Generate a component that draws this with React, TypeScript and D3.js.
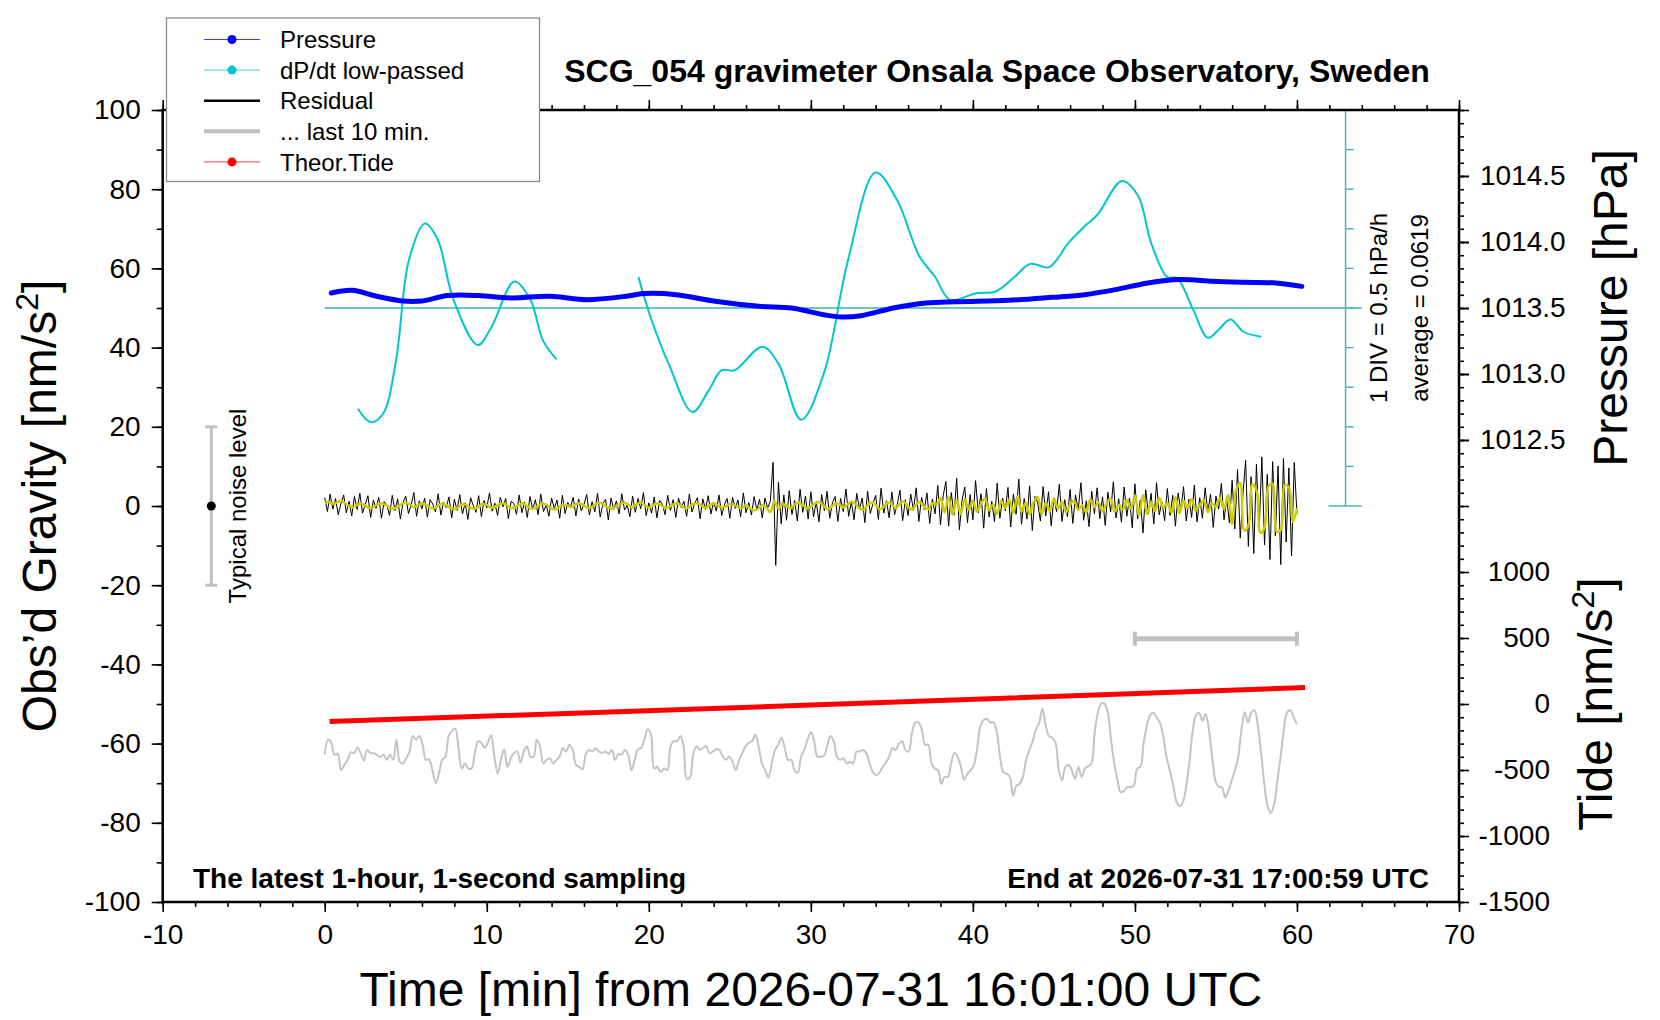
import React, { useEffect, useRef } from 'react';
import * as d3 from 'd3';

const W = 1660;
const H = 1020;
const FONT = "'Liberation Sans', Arial, Helvetica, sans-serif";

// frame of the plot, in pixels
const L = 162.7, R = 1459, T = 110, B = 902;

// ---- data ----
const pressureT = [0.4, 1.7, 3.2, 4.8, 6.0, 7.6, 9.5, 11.5, 13.9, 16.2, 18.6, 19.7, 21.7, 24.1, 26.8, 28.8,
  30.8, 31.9, 33.1, 35.1, 37.1, 39.0, 42.2, 44.9, 46.9, 48.8, 50.8, 52.8, 54.8, 56.7, 58.7, 60.3];
const pressureHPa = [1013.614, 1013.634, 1013.589, 1013.553, 1013.553, 1013.594, 1013.594, 1013.576, 1013.589,
  1013.563, 1013.589, 1013.609, 1013.601, 1013.551, 1013.513, 1013.500, 1013.449, 1013.432, 1013.442,
  1013.500, 1013.538, 1013.548, 1013.558, 1013.581, 1013.601, 1013.639, 1013.690, 1013.715, 1013.702,
  1013.695, 1013.690, 1013.664];

// dP/dt low-passed, hPa/h (null = gap)
const dpdtT = [2.05, 2.84, 3.6, 4.4, 5.2, 6.18, 6.97, 7.95, 9.44, 10.3, 11.7, 12.7, 13.46, 14.3,
  16.8,
  19.36, 20.1, 21.3, 22.7, 23.7, 24.5, 25.3, 27.0, 28.0, 29.4, 30.8, 32.3, 34.0, 35.3, 36.7, 37.65, 38.6,
  40.2, 41.4, 42.6, 43.55, 44.7, 45.9, 46.9, 47.7, 49.2, 50.2, 51.0, 52.0, 52.6, 53.6, 54.5, 55.15, 55.9,
  56.7, 57.8];
const dpdtVal: (number | null)[] = [-1.210, -1.380, -1.274, -0.598, 0.672, 1.128, 0.926, 0.164, -0.406, -0.174,
  0.396, 0.164, -0.344, -0.588,
  null,
  0.452, -0.048, -0.682, -1.252, -0.978, -0.724, -0.724, -0.428, -0.640, -1.350, -0.766, 0.672, 1.772, 1.434,
  0.714, 0.460, 0.164, 0.248, 0.270, 0.460, 0.620, 0.578, 0.884, 1.094, 1.242, 1.666, 1.476, 0.884, 0.452,
  0.440, 0.038, -0.314, -0.216, -0.082, -0.238, -0.302];
const dpdtAverage = 0.0619;
const dpdtPerDiv = 0.5;

// residual gravity, nm/s^2, one value every 10 s from 16:01:00
const residualStepS = 10;
const residual = [
  2.1, -1.4, 3.0, -0.8, 1.9, -2.2, 0.6, 2.8, -1.7, 1.2, -2.5, 2.4,
  -0.9, 3.2, -1.8, 0.4, 2.6, -2.9, 1.5, -0.6, 2.2, -3.1, 1.1, 0.3,
  -2.4, 2.7, -1.2, 1.8, -3.3, 0.9, 2.5, -1.9, 0.2, 3.4, -2.6, 1.3,
  -0.7, 2.0, -2.8, 1.6, 0.5, -1.5, 3.1, -2.3, 1.0, -0.4, 2.3, -3.0,
  1.7, -1.1, 2.9, -2.0, 0.8, -3.4, 2.1, 0.1, -1.6, 2.6, -2.7, 1.4,
  -0.5, 3.3, -1.3, 0.7, -2.4, 2.2, -0.2, 1.9, -3.2, 1.2, 0.6, -2.1,
  2.8, -1.7, 1.0, -2.9, 2.4, -0.8, 1.6, -2.2, 3.0, -1.4, 0.3, -2.6,
  2.0, -0.6, 1.5, -3.1, 2.7, -1.9, 0.9, -0.3, 2.2, -2.5, 1.8, -1.2,
  0.4, 2.9, -2.3, 1.1, -1.5, 3.2, -2.8, 0.6, 1.7, -3.5, 2.0, -0.9,
  1.3, -2.0, 3.1, -1.0, 0.2, -2.7, 2.5, -1.6, 1.9, -0.7, 3.4, -2.4,
  0.8, -1.8, 2.3, -3.0, 1.4, 0.5, -2.2, 2.7, -1.1, 1.6, -2.9, 2.0,
  -0.4, 1.2, -2.6, 3.0, -1.5, 0.7, 2.1, -3.2, 1.8, -0.9, 2.6, -2.0,
  1.0, -1.3, 2.8, -2.4, 0.3, 1.9, -3.1, 2.2, -0.6, 1.5, -2.7, 3.3,
  -1.7, 0.9, -2.3, 2.4, -1.0, 1.7, -3.0, 2.0, -0.5, 1.2, 11.0, -15.0,
  6.0, -4.5, 2.8, -3.6, 3.9, -2.1, 1.4, -3.8, 4.2, -1.6, 2.5, -3.3,
  3.6, -2.7, 1.1, -4.0, 2.9, -1.2, 3.7, -3.1, 0.8, 2.4, -3.9, 1.9,
  -1.4, 4.3, -2.6, 1.0, -3.5, 3.2, -0.7, 2.0, -4.2, 3.8, -1.9, 0.6,
  2.7, -3.4, 4.5, -1.8, 1.3, -3.0, 3.5, -2.2, 0.4, 4.0, -3.7, 1.6,
  -2.4, 3.0, -1.1, 4.6, -3.9, 2.2, -0.9, 3.3, -4.4, 1.8, -2.0, 5.2,
  -4.8, 2.6, 6.2, -5.1, 3.4, -2.3, 7.0, -6.0, 1.5, 4.8, -4.2, 2.9,
  -3.5, 6.4, -1.7, 3.1, -5.6, 4.4, -2.8, 1.2, -4.0, 5.8, -3.1, 2.0,
  -1.2, 4.7, -5.3, 3.0, -2.1, 6.8, -4.6, 1.9, -3.3, 5.1, -6.2, 2.4,
  0.8, -3.8, 4.9, -2.5, 3.6, -5.0, 2.1, -1.4, 5.5, -3.9, 1.6, -2.7,
  4.2, -4.4, 2.8, -1.0, 5.9, -3.6, 1.3, -5.2, 3.7, -2.0, 4.6, -3.2,
  2.3, -4.9, 3.5, -1.5, 6.1, -3.0, 1.8, -4.1, 4.8, -2.6, 2.0, -5.5,
  5.6, -3.3, 1.5, -6.8, 4.1, -1.9, 3.2, -4.5, 5.9, -2.2, 1.0, -3.7,
  4.4, -2.4, 2.7, -5.1, 3.3, -1.2, 4.9, -3.8, 1.7, -2.9, 5.3, -4.0,
  2.1, -3.1, 4.6, -1.6, 3.0, -5.4, 2.5, -0.8, 5.7, -3.5, 1.9, -4.3,
  6.5, -5.8, 9.2, -8.1, 3.0, 11.5, -10.2, 7.4, -12.0, 10.6, -6.3, 12.4,
  -9.8, 8.0, -13.5, 11.2, -7.5, 10.1, -14.8, 12.0, -9.1, 9.6, -12.6, 11.0,
  -2.0,
];

// low-passed residual, one value every 15 s
const lowpassStepS = 15;
const lowpass = [
  0.8, 1.0, 0.6, 0.9, 1.3, 0.7, 0.1, -0.3,
  0.2, 0.6, 0.1, -0.5, -0.2, 0.4, 0.7, 0.3,
  -0.4, -0.7, -0.2, 0.5, 0.9, 0.4, -0.3, 0.2,
  0.7, 0.3, -0.4, -0.6, 0.1, 0.6, 0.2, -0.5,
  -0.8, -0.3, 0.4, 0.2, -0.4, -0.7, -0.1, 0.5,
  0.3, -0.4, -0.2, 0.4, 0.7, 0.2, -0.5, -0.3,
  0.3, 0.6, -0.1, -0.7, -0.4, 0.3, 0.6, 0.1,
  -0.6, -0.9, -0.2, 0.4, 0.1, -0.3, 0.5, 0.7,
  0.1, -0.5, -0.2, 0.6, 0.8, 0.2, -0.4, -0.7,
  -0.1, 0.5, 0.8, 0.3, -0.3, 0.4, 0.9, 0.2,
  -0.4, 0.1, 0.6, 0.3, -0.5, -0.2, 0.4, 0.6,
  0.1, -0.6, -0.2, 0.5, 0.7, 0.1, -0.5, 0.2,
  0.6, 0.2, -0.4, -0.1, 0.5, 0.3, -0.3, -0.5,
  0.1, -0.6, -1.1, -0.7, 0.2, -0.4, -1.5, 1.2,
  -0.6, 0.5, 0.1, -0.6, 0.4, 0.9, 0.2, -0.5,
  -0.2, 0.6, 1.0, 0.2, -0.7, -0.3, 0.6, 0.4,
  -0.4, 0.3, 1.1, 0.5, -0.6, -0.9, 0.2, 0.8,
  0.3, -0.8, -0.2, 0.9, 0.4, -0.5, 0.6, 1.1,
  -0.2, -0.9, 0.4, 1.0, -0.3, -0.8, 0.7, 0.4,
  2.0, -1.6, 2.3, -2.2, 1.5, -2.0, 1.8, -1.0,
  1.2, -1.4, 0.6, 1.9, -1.1, 0.4, -2.0, 1.3,
  -0.5, 1.6, -1.7, 2.4, -1.3, 0.7, -2.1, 1.0,
  2.2, -1.9, 0.8, -1.2, 1.8, -0.6, 1.1, -1.5,
  0.4, 1.3, -1.0, 0.2, -1.6, 1.7, -0.3, 0.9,
  -1.2, 0.6, 1.8, -1.4, 0.3, -0.9, 1.5, -0.7,
  2.6, -2.4, 2.8, -2.0, 1.0, -1.3, 2.1, -0.4,
  0.7, -1.6, 2.2, -1.8, 1.3, -0.5, 1.7, -1.1,
  0.2, 1.4, -1.5, 0.6, -0.1, 2.0, -0.8, 2.8,
  -4.5, 4.2, 5.8, -6.2, -5.0, 5.5, 4.0, -6.8,
  -5.5, 5.0, 5.6, -6.5, -6.0, 5.2, 4.8, -4.0,
  -0.5,
];

// "... last 10 min": residual of 16:51-17:01, drawn stretched over the whole hour and offset
const lastWindowMin = [50, 60];
const lastTen = [
  -62.8, -59.0, -59.8, -62.8, -62.6, -66.7, -65.4, -64.1, -62.2, -62.4, -60.9, -62.4, -64.3, -61.6, -62.4,
  -62.4, -62.8, -63.4, -62.8, -64.1, -62.8, -64.1, -59.0, -64.6, -65.0, -63.7, -62.0, -58.1, -59.0, -58.1,
  -60.3, -64.1, -64.0, -66.7, -70.0, -67.6, -64.1, -63.3, -58.1, -56.8, -56.2, -61.1, -66.3, -65.0, -66.3,
  -66.3, -62.4, -59.4, -59.8, -61.1, -59.8, -57.9, -63.3, -67.6, -64.1, -61.4, -65.9, -63.7, -62.4, -62.0,
  -64.8, -62.0, -60.7, -63.3, -63.3, -59.0, -60.7, -65.0, -64.1, -63.7, -65.0, -64.1, -63.3, -61.1, -62.0,
  -60.3, -61.6, -65.4, -65.9, -66.5, -62.8, -61.6, -62.0, -61.1, -62.0, -62.4, -62.0, -62.6, -61.6, -64.1,
  -62.6, -62.8, -61.6, -62.8, -66.7, -64.1, -61.4, -61.1, -59.0, -56.4, -57.7, -66.3, -65.9, -67.2, -66.3,
  -66.7, -60.7, -59.4, -59.4, -58.1, -60.7, -68.9, -68.4, -62.4, -60.7, -61.6, -61.1, -60.7, -62.4, -62.0,
  -61.4, -61.6, -63.3, -64.1, -63.3, -64.6, -66.7, -64.1, -62.4, -60.7, -59.8, -59.4, -57.7, -60.7, -65.0,
  -66.7, -68.6, -65.0, -61.6, -60.3, -58.5, -61.1, -64.1, -64.1, -66.7, -67.4, -63.3, -61.6, -59.0, -57.1,
  -59.4, -63.3, -63.3, -63.1, -60.7, -58.1, -59.4, -63.3, -64.1, -63.7, -65.0, -64.6, -65.0, -62.0, -62.0,
  -61.6, -62.4, -65.0, -67.2, -68.0, -67.4, -65.9, -64.8, -63.3, -61.1, -61.6, -60.0, -59.4, -61.6, -62.0,
  -57.2, -54.7, -54.7, -56.4, -60.3, -60.3, -65.0, -66.3, -66.7, -70.2, -68.4, -68.4, -65.0, -62.4, -63.3,
  -65.9, -69.1, -67.6, -66.7, -65.4, -61.1, -55.5, -54.0, -53.8, -54.7, -54.5, -57.2, -63.3, -67.2, -67.6,
  -68.4, -73.2, -70.6, -70.2, -68.4, -64.0, -61.6, -59.4, -56.4, -54.7, -51.2, -55.5, -58.1, -58.5, -59.8,
  -66.7, -69.3, -65.9, -65.4, -66.7, -68.9, -65.9, -68.4, -66.3, -65.7, -65.0, -57.2, -52.1, -49.9, -49.9,
  -52.1, -59.0, -65.0, -69.3, -72.3, -71.9, -71.0, -71.0, -70.6, -66.3, -65.9, -59.8, -55.5, -52.8, -52.2,
  -53.4, -54.7, -58.1, -63.3, -66.7, -70.2, -74.5, -75.8, -74.9, -71.0, -65.0, -57.2, -52.9, -52.2, -54.2,
  -52.5, -56.4, -63.3, -69.3, -70.9, -71.0, -73.6, -71.9, -69.3, -66.7, -63.3, -56.4, -52.1, -54.7, -52.1,
  -51.6, -55.5, -62.4, -70.2, -75.8, -77.5, -75.3, -69.3, -63.3, -56.4, -52.1, -51.6, -53.4, -55.1,
];
const lastTenBarLevel = -33.5;

// theoretical tide, nm/s^2
const tideT = [0.3, 30.0, 60.5];
const tideNm = [-133, -8, 125];

const noiseLevel = 20;
const noiseBarT = -7;

const xTicks = d3.range(-10, 71, 10);
const xMinor = d3.range(-10, 71, 2);
const yTicks = d3.range(-100, 101, 20);
const yMinor = d3.range(-100, 101, 10);
const pressureLabels = [1012.5, 1013.0, 1013.5, 1014.0, 1014.5];
const tideLabels = [-1500, -1000, -500, 0, 500, 1000];

const legendItems = [
  { label: 'Pressure', color: '#0000ff', line: '#3c3cff', width: 1, dot: true },
  { label: 'dP/dt low-passed', color: '#00c8c8', line: '#40cccc', width: 1, dot: true },
  { label: 'Residual', color: '#000000', line: '#000000', width: 2.5, dot: false },
  { label: '... last 10 min.', color: '#c0c0c0', line: '#c0c0c0', width: 4, dot: false },
  { label: 'Theor.Tide', color: '#ff0000', line: '#ff4040', width: 1, dot: true },
];

export default function App() {
  const ref = useRef<SVGSVGElement>(null);

  useEffect(() => {
    if (!ref.current) return;
    const svg = d3.select(ref.current);
    svg.selectAll('*').remove();
    svg.attr('font-family', FONT);

    const x = d3.scaleLinear().domain([-10, 70]).range([L, R]);
    const yL = d3.scaleLinear().domain([-100, 100]).range([B, T]);
    const yP = d3.scaleLinear().domain([1009, 1015]).range([B, T]);
    const yT = d3.scaleLinear().domain([-1500, 4500]).range([B, T]);
    const yD = d3.scaleLinear()
      .domain([dpdtAverage - 5 * dpdtPerDiv, dpdtAverage + 5 * dpdtPerDiv])
      .range([yL(0), T]);
    const xStretch = d3.scaleLinear().domain(lastWindowMin).range([x(0), x(60)]);

    svg.append('rect').attr('width', W).attr('height', H).attr('fill', '#fff');

    // dP/dt reference axis
    const cx = x(63);
    const teal = '#4fb3b3';
    svg.append('line')
      .attr('x1', x(0)).attr('x2', cx + 16)
      .attr('y1', yD(dpdtAverage)).attr('y2', yD(dpdtAverage))
      .attr('stroke', '#6cc6c2').attr('stroke-width', 2);
    svg.append('line')
      .attr('x1', cx).attr('x2', cx).attr('y1', yD.range()[0]).attr('y2', yD.range()[1])
      .attr('stroke', teal).attr('stroke-width', 1.5);
    d3.range(0, 11).forEach(k => {
      const yy = yD(dpdtAverage - 5 * dpdtPerDiv + k * dpdtPerDiv);
      const end = k === 0 || k === 10;
      svg.append('line')
        .attr('x1', end ? cx - 17 : cx).attr('x2', end ? cx + 16 : cx + 8)
        .attr('y1', yy).attr('y2', yy)
        .attr('stroke', teal).attr('stroke-width', 1.5);
    });

    // dP/dt curve
    const dIdx = d3.range(dpdtT.length);
    const dLine = d3.line<number>()
      .defined(i => dpdtVal[i] !== null)
      .x(i => x(dpdtT[i]))
      .y(i => yD(dpdtVal[i] as number))
      .curve(d3.curveCatmullRom.alpha(0.5));
    svg.append('path').attr('d', dLine(dIdx))
      .attr('fill', 'none').attr('stroke', '#00c8c8').attr('stroke-width', 2);

    // pressure
    const pLine = d3.line<number>()
      .x(i => x(pressureT[i]))
      .y(i => yP(pressureHPa[i]))
      .curve(d3.curveCatmullRom.alpha(0.5));
    svg.append('path').attr('d', pLine(d3.range(pressureT.length)))
      .attr('fill', 'none').attr('stroke', '#0000ff').attr('stroke-width', 5)
      .attr('stroke-linecap', 'round');

    // residual + low-passed
    const rLine = d3.line<number>()
      .x((_, i) => x(i * residualStepS / 60))
      .y(v => yL(v));
    svg.append('path').attr('d', rLine(residual))
      .attr('fill', 'none').attr('stroke', '#000').attr('stroke-width', 1);
    const lpLine = d3.line<number>()
      .x((_, i) => x(i * lowpassStepS / 60))
      .y(v => yL(v))
      .curve(d3.curveCatmullRom.alpha(0.5));
    svg.append('path').attr('d', lpLine(lowpass))
      .attr('fill', 'none').attr('stroke', '#cccc00').attr('stroke-width', 2.5);

    // last 10 min stretched
    const n = lastTen.length;
    const gLine = d3.line<number>()
      .x((_, i) => xStretch(lastWindowMin[0] + (lastWindowMin[1] - lastWindowMin[0]) * i / (n - 1)))
      .y(v => yL(v))
      .curve(d3.curveCatmullRom.alpha(0.5));
    svg.append('path').attr('d', gLine(lastTen))
      .attr('fill', 'none').attr('stroke', '#c4c4c4').attr('stroke-width', 2);

    // bar marking the last 10 minutes
    const by = yL(lastTenBarLevel);
    svg.append('line').attr('x1', x(lastWindowMin[0])).attr('x2', x(lastWindowMin[1]))
      .attr('y1', by).attr('y2', by).attr('stroke', '#c0c0c0').attr('stroke-width', 5);
    lastWindowMin.forEach(t => {
      svg.append('line').attr('x1', x(t)).attr('x2', x(t)).attr('y1', by - 7).attr('y2', by + 7)
        .attr('stroke', '#c0c0c0').attr('stroke-width', 4);
    });

    // theoretical tide
    const tLine = d3.line<number>().x(i => x(tideT[i])).y(i => yT(tideNm[i]));
    svg.append('path').attr('d', tLine(d3.range(tideT.length)))
      .attr('fill', 'none').attr('stroke', '#ff0000').attr('stroke-width', 5);

    // typical noise level
    const nx = x(noiseBarT);
    svg.append('line').attr('x1', nx).attr('x2', nx)
      .attr('y1', yL(noiseLevel)).attr('y2', yL(-noiseLevel))
      .attr('stroke', '#c0c0c0').attr('stroke-width', 3);
    [noiseLevel, -noiseLevel].forEach(v => {
      svg.append('line').attr('x1', nx - 6).attr('x2', nx + 6).attr('y1', yL(v)).attr('y2', yL(v))
        .attr('stroke', '#c0c0c0').attr('stroke-width', 3);
    });
    svg.append('circle').attr('cx', nx).attr('cy', yL(0)).attr('r', 4.5).attr('fill', '#000');
    svg.append('text').attr('transform', `translate(246,${yL(0)}) rotate(-90)`)
      .attr('text-anchor', 'middle').attr('font-size', 24).text('Typical noise level');

    // texts by the dP/dt axis
    svg.append('text').attr('transform', `translate(1387,${yD(dpdtAverage)}) rotate(-90)`)
      .attr('text-anchor', 'middle').attr('font-size', 24).text('1 DIV = 0.5 hPa/h');
    svg.append('text').attr('transform', `translate(1428,${yD(dpdtAverage)}) rotate(-90)`)
      .attr('text-anchor', 'middle').attr('font-size', 24).text(`average = ${dpdtAverage}`);

    // frame
    svg.append('rect').attr('x', L).attr('y', T).attr('width', R - L).attr('height', B - T)
      .attr('fill', 'none').attr('stroke', '#000').attr('stroke-width', 2.5);

    const styleAxis = (g: d3.Selection<SVGGElement, unknown, null, undefined>) => {
      g.select('.domain').remove();
      g.selectAll('line').attr('stroke-width', 1.6);
      g.attr('font-size', 28).attr('font-family', FONT);
      g.selectAll('text').attr('fill', '#000');
    };
    const fmt = (d: d3.NumberValue) => String(d);
    const none = () => '';

    svg.append('g').attr('transform', `translate(0,${B})`)
      .call(d3.axisBottom(x).tickValues(xMinor).tickSize(5).tickFormat(none)).call(styleAxis);
    svg.append('g').attr('transform', `translate(0,${B})`)
      .call(d3.axisBottom(x).tickValues(xTicks).tickSize(10).tickPadding(12).tickFormat(fmt)).call(styleAxis);
    svg.append('g').attr('transform', `translate(0,${T})`)
      .call(d3.axisTop(x).tickValues(xMinor).tickSize(5).tickFormat(none)).call(styleAxis);
    svg.append('g').attr('transform', `translate(0,${T})`)
      .call(d3.axisTop(x).tickValues(xTicks).tickSize(10).tickFormat(none)).call(styleAxis);

    svg.append('g').attr('transform', `translate(${L},0)`)
      .call(d3.axisLeft(yL).tickValues(yMinor).tickSize(6).tickFormat(none)).call(styleAxis);
    svg.append('g').attr('transform', `translate(${L},0)`)
      .call(d3.axisLeft(yL).tickValues(yTicks).tickSize(11).tickPadding(11).tickFormat(fmt)).call(styleAxis);

    const pMinor = d3.range(0, 61).map(i => 1009 + i * 0.1);
    const pMajor = d3.range(0, 13).map(i => 1009 + i * 0.5);
    svg.append('g').attr('transform', `translate(${R},0)`)
      .call(d3.axisRight(yP).tickValues(pMinor).tickSize(5).tickFormat(none)).call(styleAxis);
    svg.append('g').attr('transform', `translate(${R},0)`)
      .call(d3.axisRight(yP).tickValues(pMajor).tickSize(10).tickFormat(none)).call(styleAxis);
    svg.append('g').attr('transform', `translate(${R},0)`)
      .call(d3.axisRight(yP).tickValues(pressureLabels).tickSize(10).tickPadding(11)
        .tickFormat(d => (+d).toFixed(1))).call(styleAxis);
    const gt = svg.append('g').attr('transform', `translate(${R},0)`)
      .call(d3.axisRight(yT).tickValues(tideLabels).tickSize(0).tickPadding(91).tickFormat(fmt))
      .call(styleAxis);
    gt.selectAll('text').attr('text-anchor', 'end');

    // axis titles
    const yTitle = svg.append('text').attr('transform', `translate(56,${yL(0)}) rotate(-90)`)
      .attr('text-anchor', 'middle').attr('font-size', 48);
    yTitle.append('tspan').text('Obs’d Gravity [nm/s');
    yTitle.append('tspan').attr('dy', -18).attr('font-size', 32).text('2');
    yTitle.append('tspan').attr('dy', 18).text(']');

    svg.append('text').attr('transform', `translate(1627,${(T + yL(0)) / 2}) rotate(-90)`)
      .attr('text-anchor', 'middle').attr('font-size', 48).text('Pressure [hPa]');
    const tTitle = svg.append('text').attr('transform', `translate(1612,${(B + yL(0)) / 2}) rotate(-90)`)
      .attr('text-anchor', 'middle').attr('font-size', 48);
    tTitle.append('tspan').text('Tide [nm/s');
    tTitle.append('tspan').attr('dy', -18).attr('font-size', 32).text('2');
    tTitle.append('tspan').attr('dy', 18).text(']');

    svg.append('text').attr('x', (L + R) / 2).attr('y', 1006).attr('text-anchor', 'middle')
      .attr('font-size', 48).text('Time [min] from 2026-07-31 16:01:00 UTC');

    svg.append('text').attr('x', 997).attr('y', 82).attr('text-anchor', 'middle')
      .attr('font-size', 32).attr('font-weight', 'bold')
      .text('SCG_054 gravimeter Onsala Space Observatory, Sweden');

    svg.append('text').attr('x', 193).attr('y', 888).attr('font-size', 28).attr('font-weight', 'bold')
      .text('The latest 1-hour, 1-second sampling');
    svg.append('text').attr('x', 1429).attr('y', 888).attr('text-anchor', 'end')
      .attr('font-size', 28).attr('font-weight', 'bold')
      .text('End at 2026-07-31 17:00:59 UTC');

    // legend
    const lg = svg.append('g');
    lg.append('rect').attr('x', 166.5).attr('y', 18).attr('width', 373).attr('height', 163.5)
      .attr('fill', '#fff').attr('stroke', '#8a8a8a').attr('stroke-width', 1.3);
    legendItems.forEach((it, i) => {
      const yy = 39.5 + i * 30.6;
      lg.append('line').attr('x1', 204).attr('x2', 260).attr('y1', yy).attr('y2', yy)
        .attr('stroke', it.line).attr('stroke-width', it.width);
      if (it.dot) lg.append('circle').attr('cx', 232).attr('cy', yy).attr('r', 4.5).attr('fill', it.color);
      lg.append('text').attr('x', 280).attr('y', yy + 8.6).attr('font-size', 24).text(it.label);
    });
  }, []);

  return (
    <svg ref={ref} width={W} height={H}
      style={{ position: 'absolute', left: 0, top: 0, display: 'block' }} />
  );
}
